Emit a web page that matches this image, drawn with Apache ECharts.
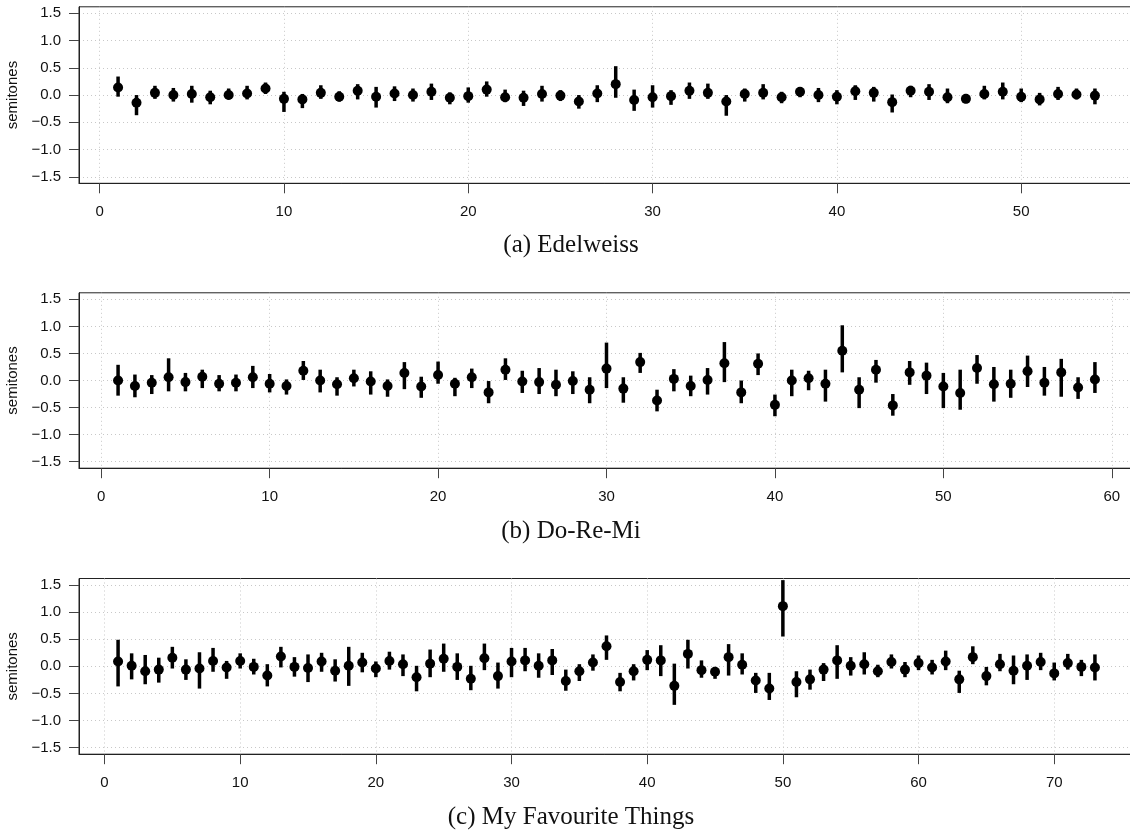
<!DOCTYPE html>
<html>
<head>
<meta charset="utf-8">
<script src="https://cdn.jsdelivr.net/npm/echarts@6/dist/echarts.min.js"></script>
<style>
html,body{margin:0;padding:0;background:#fff;}
#chart{width:1130px;height:832px;}
</style>
</head>
<body>
<div id="chart"></div>
<script>
// ---- Data ----
const captions = ['(a) Edelweiss', '(b) Do-Re-Mi', '(c) My Favourite Things'];
const yTicks = [-1.5, -1.0, -0.5, 0.0, 0.5, 1.0, 1.5];
const xTicksA = [0, 10, 20, 30, 40, 50];
const xTicksB = [0, 10, 20, 30, 40, 50, 60];
const xTicksC = [0, 10, 20, 30, 40, 50, 60, 70];

const meanA = [0.14,-0.14,0.04,0.00,0.02,-0.04,0.00,0.03,0.12,-0.07,-0.08,0.04,-0.03,0.08,-0.03,0.03,0.00,0.06,-0.05,-0.02,0.10,-0.04,-0.05,0.02,-0.01,-0.12,0.03,0.20,-0.09,-0.04,-0.02,0.08,0.04,-0.12,0.02,0.04,-0.04,0.06,0.00,-0.03,0.07,0.04,-0.13,0.08,0.06,-0.04,-0.07,0.02,0.06,-0.03,-0.08,0.02,0.01,-0.01];
const hiA = [0.34,0.00,0.17,0.13,0.17,0.08,0.12,0.17,0.23,0.06,0.02,0.18,0.07,0.20,0.15,0.16,0.12,0.21,0.05,0.14,0.25,0.10,0.08,0.17,0.09,0.00,0.18,0.53,0.10,0.18,0.09,0.23,0.21,0.00,0.12,0.20,0.06,0.14,0.13,0.09,0.18,0.15,0.01,0.17,0.20,0.12,0.02,0.17,0.23,0.12,0.04,0.15,0.12,0.12];
const loA = [-0.03,-0.37,-0.07,-0.12,-0.14,-0.17,-0.08,-0.08,0.02,-0.31,-0.24,-0.07,-0.12,-0.08,-0.23,-0.11,-0.12,-0.09,-0.17,-0.14,-0.03,-0.13,-0.20,-0.12,-0.11,-0.25,-0.13,-0.05,-0.29,-0.23,-0.18,-0.07,-0.07,-0.38,-0.12,-0.08,-0.15,-0.04,-0.13,-0.17,-0.09,-0.12,-0.32,-0.04,-0.09,-0.15,-0.15,-0.08,-0.08,-0.13,-0.19,-0.09,-0.08,-0.17];

const meanB = [0.00,-0.10,-0.04,0.06,-0.03,0.07,-0.06,-0.04,0.06,-0.06,-0.10,0.18,0.00,-0.07,0.04,-0.02,-0.10,0.14,-0.11,0.10,-0.06,0.06,-0.22,0.20,-0.02,-0.03,-0.08,-0.01,-0.17,0.22,-0.15,0.34,-0.37,0.03,-0.10,0.01,0.32,-0.22,0.31,-0.45,0.00,0.04,-0.06,0.55,-0.17,0.20,-0.46,0.15,0.09,-0.11,-0.23,0.23,-0.07,-0.06,0.17,-0.04,0.15,-0.13,0.02];
const hiB = [0.29,0.11,0.10,0.41,0.14,0.20,0.10,0.11,0.27,0.12,0.02,0.36,0.20,0.06,0.20,0.17,0.02,0.34,0.07,0.35,0.05,0.22,-0.01,0.41,0.18,0.23,0.20,0.17,0.06,0.70,0.06,0.51,-0.17,0.21,0.09,0.23,0.71,0.00,0.50,-0.26,0.20,0.18,0.20,1.02,0.06,0.38,-0.25,0.36,0.33,0.14,0.20,0.47,0.25,0.20,0.46,0.25,0.40,0.06,0.34];
const loB = [-0.28,-0.31,-0.25,-0.20,-0.20,-0.14,-0.20,-0.20,-0.14,-0.22,-0.26,0.01,-0.22,-0.28,-0.11,-0.26,-0.30,-0.16,-0.32,-0.06,-0.29,-0.14,-0.42,0.01,-0.23,-0.25,-0.29,-0.25,-0.42,-0.14,-0.41,0.14,-0.57,-0.20,-0.29,-0.26,-0.03,-0.42,0.10,-0.66,-0.29,-0.18,-0.39,0.15,-0.51,-0.04,-0.65,-0.08,-0.25,-0.51,-0.54,-0.06,-0.39,-0.32,-0.12,-0.28,-0.30,-0.34,-0.23];

const meanC = [0.09,0.01,-0.09,-0.06,0.16,-0.06,-0.04,0.10,-0.02,0.10,-0.01,-0.17,0.18,-0.01,-0.03,0.09,-0.08,0.01,0.07,-0.04,0.10,0.04,-0.20,0.05,0.14,-0.01,-0.23,0.15,-0.18,0.09,0.11,0.01,0.11,-0.27,-0.09,0.07,0.37,-0.29,-0.09,0.12,0.11,-0.36,0.23,-0.07,-0.10,0.17,0.03,-0.26,-0.41,1.11,-0.29,-0.24,-0.06,0.11,0.01,0.04,-0.09,0.08,-0.06,0.06,-0.02,0.09,-0.24,0.17,-0.18,0.04,-0.08,0.01,0.08,-0.13,0.06,-0.01,-0.02];
const hiC = [0.49,0.24,0.21,0.16,0.36,0.13,0.26,0.34,0.10,0.24,0.14,0.04,0.36,0.17,0.22,0.25,0.13,0.36,0.25,0.09,0.27,0.22,0.01,0.31,0.42,0.24,0.01,0.42,0.07,0.34,0.34,0.24,0.32,-0.06,0.04,0.22,0.57,-0.12,0.04,0.30,0.39,0.05,0.49,0.11,-0.01,0.41,0.24,-0.12,-0.12,1.59,-0.09,-0.06,0.06,0.39,0.17,0.26,0.03,0.22,0.08,0.20,0.12,0.29,-0.08,0.37,-0.01,0.23,0.20,0.22,0.25,0.07,0.23,0.12,0.22];
const loC = [-0.37,-0.24,-0.33,-0.30,-0.04,-0.25,-0.41,-0.10,-0.23,-0.04,-0.15,-0.37,-0.02,-0.19,-0.29,-0.10,-0.28,-0.36,-0.11,-0.20,-0.06,-0.18,-0.46,-0.20,-0.10,-0.25,-0.44,-0.07,-0.41,-0.20,-0.09,-0.21,-0.16,-0.45,-0.27,-0.08,0.12,-0.46,-0.26,-0.07,-0.18,-0.71,-0.04,-0.21,-0.23,-0.17,-0.15,-0.49,-0.62,0.55,-0.57,-0.43,-0.27,-0.23,-0.17,-0.15,-0.20,-0.04,-0.20,-0.07,-0.15,-0.07,-0.49,0.04,-0.35,-0.09,-0.33,-0.25,-0.07,-0.26,-0.06,-0.18,-0.26];

// ---- Layout ----
const panels = [
  {mean: meanA, hi: hiA, lo: loA, xTicks: xTicksA, top: 6.8, height: 176.5},
  {mean: meanB, hi: hiB, lo: loB, xTicks: xTicksB, top: 292.8, height: 175.4},
  {mean: meanC, hi: hiC, lo: loC, xTicks: xTicksC, top: 578.5, height: 175.7}
];
const GRID_LEFT = 79, GRID_WIDTH = 1055;
const fmtY = v => v.toFixed(1).replace('-', '\u2212');
const sans = 'Liberation Sans, Arial, sans-serif';

const grids = [], xAxes = [], yAxes = [], series = [], graphics = [];
panels.forEach((p, i) => {
  const n = p.mean.length;
  const ext = (n - 1) * 0.04;
  grids.push({left: GRID_LEFT, width: GRID_WIDTH, top: p.top, height: p.height,
    outerBoundsMode: 'none', containLabel: false,
    show: true, borderColor: '#222', borderWidth: 1, backgroundColor: 'transparent'});
  xAxes.push({
    type: 'value', gridIndex: i, min: 1 - ext, max: n + ext,
    axisLine: {show: true, onZero: false, lineStyle: {color: '#222', width: 1}},
    axisTick: {show: true, length: 10, customValues: p.xTicks, lineStyle: {color: '#444', width: 1}},
    axisLabel: {show: true, customValues: p.xTicks, margin: 21, fontSize: 15, fontFamily: sans, color: '#111'},
    splitLine: {show: true, lineStyle: {color: '#c8c8c8', type: [1, 3], width: 1}}
  });
  yAxes.push({
    type: 'value', gridIndex: i, min: -1.62, max: 1.62,
    name: 'semitones', nameLocation: 'middle', nameGap: 54, nameRotate: 90,
    nameTextStyle: {fontSize: 15, fontFamily: sans, color: '#111'},
    axisLine: {show: true, onZero: false, lineStyle: {color: '#222', width: 1}},
    axisTick: {show: true, length: 10, customValues: yTicks, lineStyle: {color: '#444', width: 1}},
    axisLabel: {show: true, customValues: yTicks, formatter: fmtY, margin: 18, fontSize: 15, fontFamily: sans, color: '#111'},
    splitLine: {show: true, lineStyle: {color: '#c8c8c8', type: [1, 3], width: 1}}
  });
  const barData = p.mean.map((m, k) => [k + 1, p.lo[k], p.hi[k]]);
  const ptData = p.mean.map((m, k) => [k + 1, m]);
  series.push({
    type: 'custom', xAxisIndex: i, yAxisIndex: i, data: barData, silent: true,
    renderItem: (params, api) => {
      const a = api.coord([api.value(0), api.value(1)]);
      const b = api.coord([api.value(0), api.value(2)]);
      return {type: 'line', shape: {x1: a[0], y1: a[1], x2: b[0], y2: b[1]},
        style: {stroke: '#000', lineWidth: 3.5}};
    },
    z: 3
  });
  series.push({
    type: 'scatter', xAxisIndex: i, yAxisIndex: i, data: ptData, silent: true,
    symbol: 'circle', symbolSize: 10, itemStyle: {color: '#000', opacity: 1}, z: 4
  });
  graphics.push({
    type: 'text', x: 571, y: p.top + 238.5,
    style: {text: captions[i], font: '25px "Liberation Serif", "DejaVu Serif", serif',
      fill: '#111', textAlign: 'center', textVerticalAlign: 'middle'}
  });
});

const chart = echarts.init(document.getElementById('chart'), null, {renderer: 'canvas'});
chart.setOption({
  animation: false,
  backgroundColor: '#fff',
  grid: grids, xAxis: xAxes, yAxis: yAxes, series: series,
  graphic: graphics
});
</script>
</body>
</html>
